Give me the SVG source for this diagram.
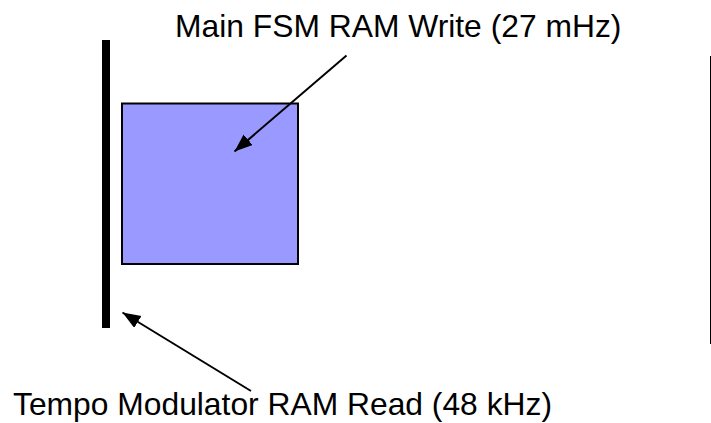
<svg xmlns="http://www.w3.org/2000/svg" width="711" height="423" viewBox="0 0 711 423">
<style>
.lbl{font-family:"Liberation Sans",Arial,sans-serif;font-size:31.8px;fill:#000}
.conn{stroke:#000;stroke-width:2;fill:none}
</style>
<defs>
<marker id="ah" markerUnits="userSpaceOnUse" markerWidth="20" markerHeight="16" refX="18" refY="7" orient="auto">
<path d="M0,0 L18,7 L0,14 z" fill="#000"/>
</marker>
</defs>
<rect width="711" height="423" fill="#fff"/>
<g id="read-bar"><rect x="102" y="40" width="8" height="288" fill="#000"/></g>
<g id="ram-block"><rect x="122" y="103.5" width="176" height="160.5" fill="#9999FF" stroke="#000" stroke-width="2"/></g>
<g id="right-edge"><line x1="710.5" y1="56" x2="710.5" y2="344" stroke="#000" stroke-width="1"/></g>
<g id="label-write"><text class="lbl" x="175" y="36.5">Main FSM RAM Write (27 mHz)</text></g>
<g id="label-read"><text class="lbl" x="13" y="415">Tempo Modulator RAM Read (48 kHz)</text></g>
<g id="connectors">
<line class="conn" x1="346.5" y1="55.5" x2="234.5" y2="151.5" marker-end="url(#ah)"/>
<line class="conn" x1="251" y1="391" x2="122.5" y2="312.5" marker-end="url(#ah)"/>
</g>
</svg>
